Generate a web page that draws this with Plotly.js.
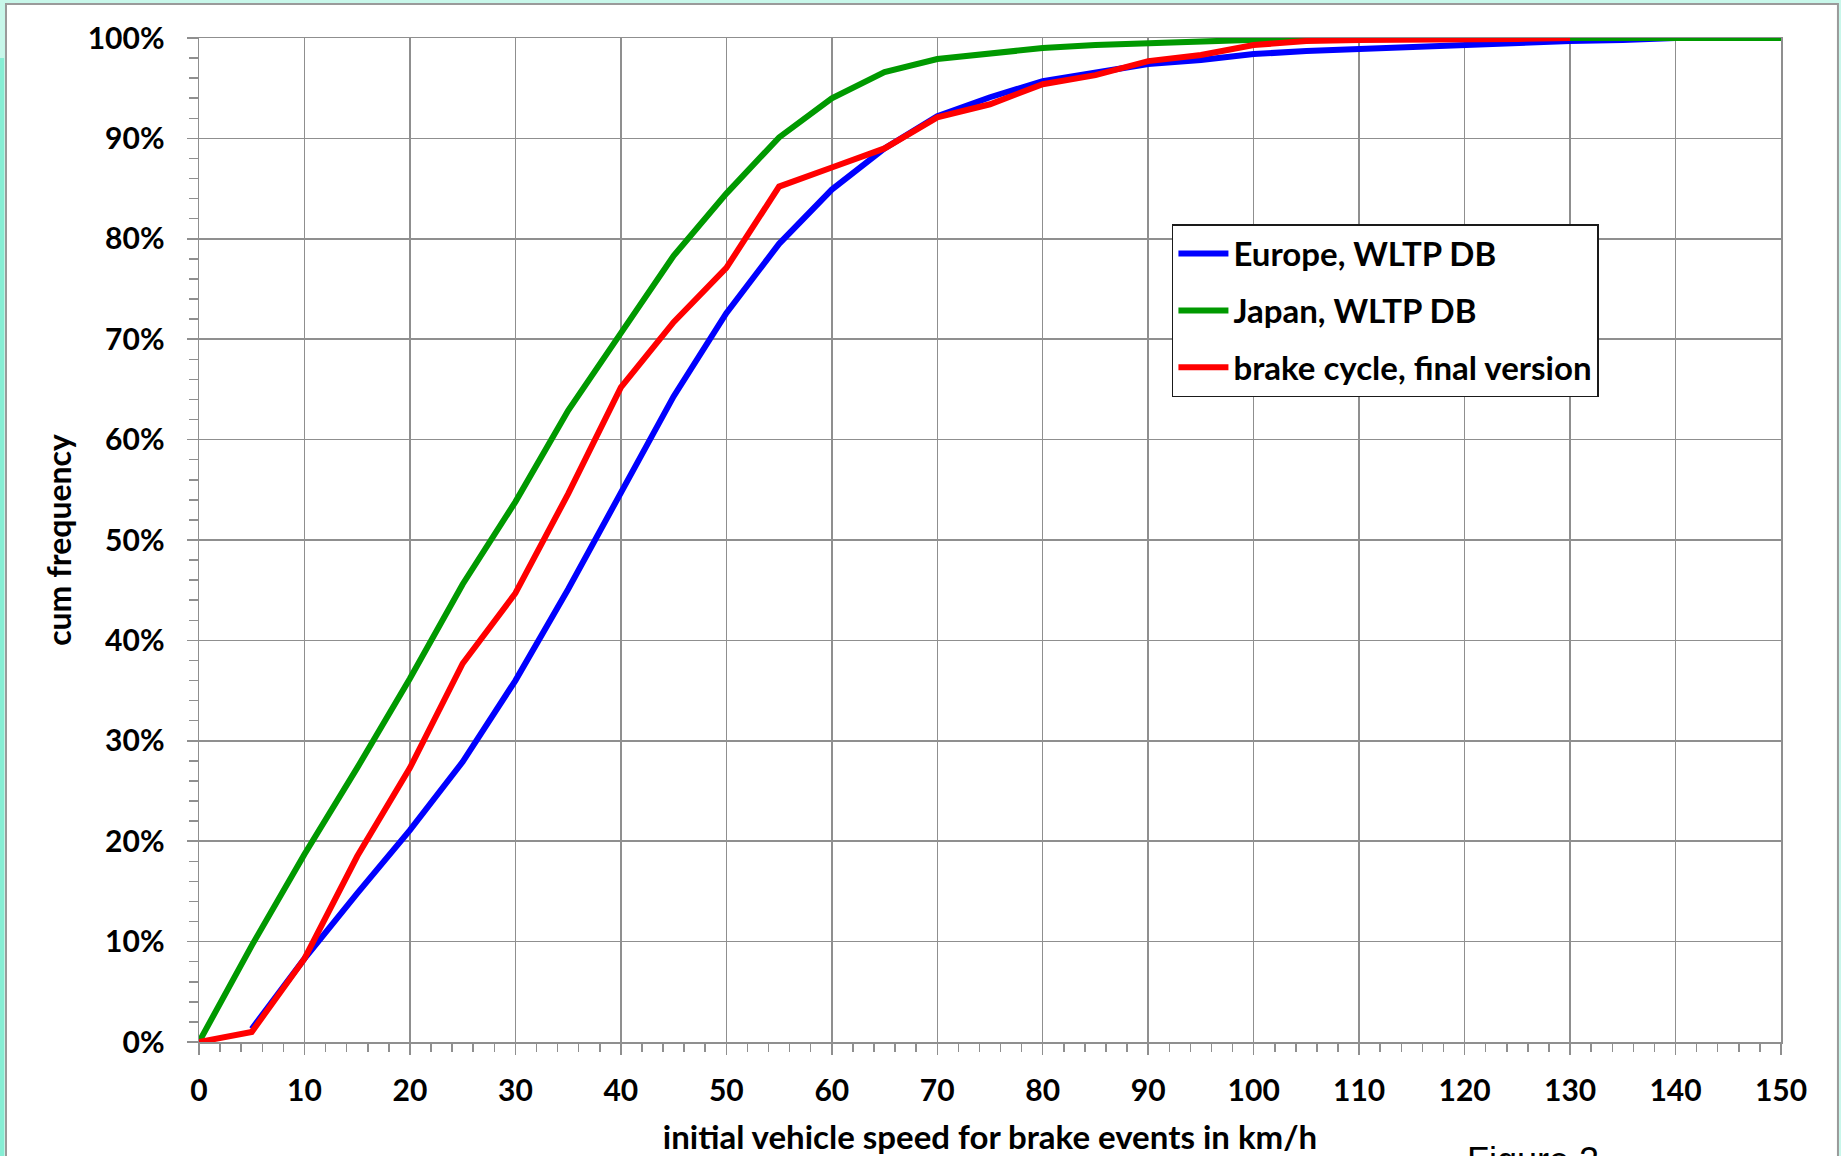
<!DOCTYPE html>
<html>
<head>
<meta charset="utf-8">
<script src="https://cdn.plot.ly/plotly-3.0.1.min.js"></script>
<style>html,body{margin:0;padding:0;background:#c8f7ea;}#chart{width:1841px;height:1156px;}</style>
</head>
<body>
<div id="chart"></div>
<script>
// ---- data ----
var speedsEurope = [5,10,15,20,25,30,35,40,45,50,55,60,65,70,75,80,85,90,95,100,105,110,115,120,125,130,135,140];
var cumEurope    = [1.3,8.3,14.8,21.1,27.9,36.0,45.1,54.6,64.3,72.6,79.5,84.9,89.0,92.2,94.1,95.7,96.5,97.4,97.8,98.4,98.7,98.9,99.2,99.4,99.6,99.7,99.8,100];

var speedsJapan  = [0,5,10,15,20,25,30,35,40,45,50,55,60,65,70,75,80,85,90,95,100,105,110,115,120,125,130,135,140,145,150];
var cumJapan     = [0,9.6,18.7,27.3,36.2,45.6,53.8,62.9,70.6,78.3,84.5,90.1,94.0,96.6,97.9,98.5,99.0,99.3,99.5,99.7,99.9,100,100,100,100,100,100,100,100,100,100];

var speedsBrake  = [0,5,10,15,20,25,30,35,40,45,50,55,60,65,70,75,80,85,90,95,100,105,110,115,120,125,130];
var cumBrake     = [0,1.0,8.3,18.5,27.3,37.7,44.7,54.6,65.2,71.7,77.1,85.2,87.1,89.0,92.1,93.4,95.4,96.3,97.7,98.3,99.3,99.7,99.8,99.8,99.8,99.9,100];

var seriesNames  = ["Europe, WLTP DB", "Japan, WLTP DB", "brake cycle, final version"];
var xTickVals    = [0,10,20,30,40,50,60,70,80,90,100,110,120,130,140,150];
var yTickVals    = [0,10,20,30,40,50,60,70,80,90,100];
var xTitle = "initial vehicle speed for brake events in km/h";
var yTitle = "cum frequency";
var footText = "Figure 2";

// ---- styling ----
var gridCol = "#8f8f8f";
var fontFam = "Lato, 'Open Sans', sans-serif";
var boldFont = function(sz){ return {family: fontFam, size: sz, color: "#000", weight: 700}; };

var traces = [
  {x: speedsEurope, y: cumEurope, name: seriesNames[0], mode: "lines", legendgroup: "a",
   line: {color: "#0000ff", width: 6}},
  {x: speedsJapan, y: cumJapan, name: seriesNames[1], mode: "lines", legendgroup: "b",
   line: {color: "#009900", width: 6}},
  {x: speedsBrake, y: cumBrake, name: seriesNames[2], mode: "lines", legendgroup: "c",
   line: {color: "#ff0000", width: 6}}
];

var layout = {
  width: 1841, height: 1156,
  margin: {l: 199, r: 60, t: 38, b: 114, pad: 0},
  paper_bgcolor: "#c8f7ea",
  plot_bgcolor: "#ffffff",
  showlegend: true,
  xaxis: {
    range: [0, 150], tickvals: xTickVals, ticktext: xTickVals.map(String),
    showgrid: true, gridcolor: gridCol, gridwidth: 1.5,
    showline: true, linecolor: gridCol, linewidth: 1.5, mirror: true,
    zeroline: false,
    ticks: "outside", ticklen: 11, tickcolor: gridCol, tickwidth: 1.5,
    minor: {dtick: 2, ticks: "outside", ticklen: 8, tickcolor: gridCol, tickwidth: 1.5, showgrid: false},
    tickfont: boldFont(30), ticklabelstandoff: 10,
    title: {text: xTitle, font: boldFont(33), standoff: 20},
    automargin: false
  },
  yaxis: {
    range: [0, 100], tickvals: yTickVals, ticktext: yTickVals.map(function(v){return v + "%";}),
    showgrid: true, gridcolor: gridCol, gridwidth: 1.5,
    showline: true, linecolor: gridCol, linewidth: 1.5, mirror: true,
    zeroline: false,
    ticks: "outside", ticklen: 11, tickcolor: gridCol, tickwidth: 1.5,
    minor: {dtick: 2, ticks: "outside", ticklen: 9, tickcolor: gridCol, tickwidth: 1.5, showgrid: false},
    tickfont: boldFont(30), ticklabelstandoff: 16,
    title: {text: yTitle, font: boldFont(32), standoff: 6},
    automargin: false
  },
  xaxis2: {
    overlaying: "x", anchor: "y", range: [0, 150], showgrid: false, showline: false, zeroline: false,
    showticklabels: false, ticks: "", tickvals: xTickVals,
    minor: {dtick: 2, ticks: "inside", ticklen: 8, tickcolor: gridCol, tickwidth: 1.5, showgrid: false}
  },
  yaxis2: {
    overlaying: "y", anchor: "x", range: [0, 100], showgrid: false, showline: false, zeroline: false,
    showticklabels: false, ticks: "", tickvals: yTickVals,
    minor: {dtick: 2, ticks: "inside", ticklen: 7, tickcolor: gridCol, tickwidth: 1.5, showgrid: false}
  },
  legend: {
    x: 0.615, y: 0.8147, xanchor: "left", yanchor: "top",
    bgcolor: "#ffffff", bordercolor: "#1a1a1a", borderwidth: 1.5,
    font: boldFont(33), traceorder: "grouped", tracegroupgap: 11,
    itemwidth: 50
  },
  shapes: [
    {type: "rect", xref: "paper", yref: "paper", layer: "below",
     x0: -0.1220, x1: 1.0360, y0: -0.13, y1: 1.0339,
     fillcolor: "#ffffff", line: {color: "#9a9a9a", width: 2}},
    {type: "rect", xref: "paper", yref: "paper", layer: "below",
     x0: -0.1258, x1: -0.1232, y0: -0.13, y1: 0.98,
     fillcolor: "#86eed4", line: {width: 0}}
  ],
  annotations: [
    {xref: "paper", yref: "paper", x: (1465 - 199) / 1582, y: -0.096, xanchor: "left", yanchor: "top",
     text: footText, showarrow: false,
     font: {family: "'Liberation Sans', Arial, sans-serif", size: 36, color: "#000"}}
  ]
};

Plotly.newPlot("chart", traces, layout, {displayModeBar: false, staticPlot: true});
</script>
</body>
</html>
